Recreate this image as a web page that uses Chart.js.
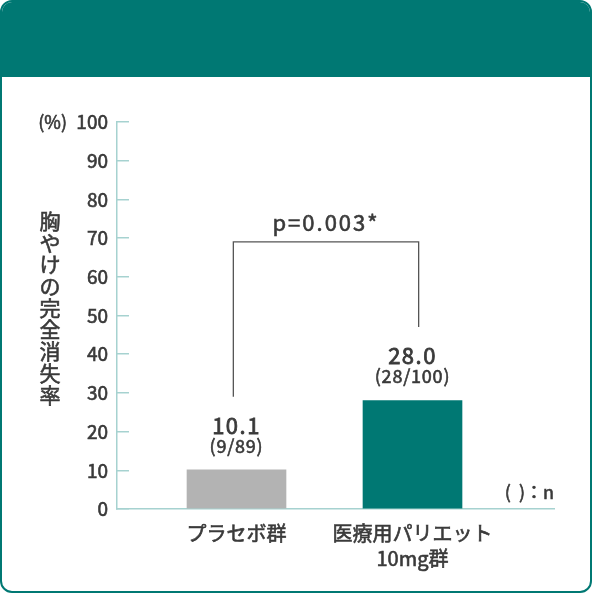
<!DOCTYPE html>
<html>
<head>
<meta charset="utf-8">
<script src="https://cdn.jsdelivr.net/npm/chart.js@4.4.1/dist/chart.umd.min.js"></script>
<style>
    body { margin: 0; background: #fff; }
    #card { position: absolute; left: 0; top: 0; width: 592px; height: 593px; box-sizing: border-box;
        border: 2px solid #007873; border-radius: 12px; overflow: hidden; }
    #head { height: 75px; background: #007873; }
    #chart { position: absolute; left: 0; top: 0; }
</style>
</head>
<body>
<div id="card"><div id="head"></div></div>
<canvas id="chart" width="593" height="594"></canvas>
<script>
    // data
    var categories = ['プラセボ群', ['医療用パリエット', '10mg群']];
    var rates = [10.1, 28.0];
    var rateLabels = ['10.1', '28.0'];
    var countLabels = ['(9/89)', '(28/100)'];
    var barColors = ['#b3b3b3', '#007873'];
    var yTicks = [0, 10, 20, 30, 40, 50, 60, 70, 80, 90, 100];
    var yTitle = '胸やけの完全消失率';
    var pLabel = 'p=0.003*';
    // bracket: level and the two foot ends, in % units
    var bracketLevel = 69;
    var bracketFeet = [29, 47];

    var FONT = "'Noto Sans CJK JP', 'Noto Sans', sans-serif";
    var TEXT = '#3a3a3a';
    var AXIS = '#a6d2d0';

    // fill + thin stroke, the reference type is a bit heavier than Regular
    function label(ctx, s, x, y, w) {
        ctx.lineWidth = w || 0.6;
        ctx.strokeStyle = TEXT;
        ctx.fillText(s, x, y);
        ctx.strokeText(s, x, y);
    }

    var extras = {
        id: 'extras',
        afterDatasetsDraw: function (chart) {
            var ctx = chart.ctx, x = chart.scales.x, y = chart.scales.y;
            ctx.save();
            ctx.fillStyle = TEXT;
            ctx.textAlign = 'center';
            ctx.textBaseline = 'middle';

            // value + n labels over the bars
            rates.forEach(function (v, i) {
                var px = x.getPixelForValue(i), py = y.getPixelForValue(v);
                ctx.letterSpacing = '1.5px';
                ctx.font = '22px ' + FONT;
                label(ctx, rateLabels[i], px, py - 44.5, 0.8);
                ctx.letterSpacing = '0.8px';
                ctx.font = '18px ' + FONT;
                label(ctx, countLabels[i], px, py - 24);
            });

            // significance bracket
            var xl = x.getPixelForValue(-0.018), xr = x.getPixelForValue(1.035);
            var yb = y.getPixelForValue(bracketLevel);
            ctx.strokeStyle = '#555';
            ctx.lineWidth = 1.3;
            ctx.beginPath();
            ctx.moveTo(xl, y.getPixelForValue(bracketFeet[0]));
            ctx.lineTo(xl, yb);
            ctx.lineTo(xr, yb);
            ctx.lineTo(xr, y.getPixelForValue(bracketFeet[1]));
            ctx.stroke();
            ctx.letterSpacing = '2px';
            ctx.font = '22px ' + FONT;
            label(ctx, pLabel, (xl + xr) / 2, yb - 19);
            ctx.letterSpacing = '0px';

            // (%) unit and vertical title
            ctx.font = '18px ' + FONT;
            ctx.textAlign = 'right';
            label(ctx, '(%)', 67, y.getPixelForValue(100));
            ctx.textAlign = 'center';
            ctx.font = '21px ' + FONT;
            var chars = Array.from(yTitle);
            var step = 21.7;
            var cy = y.getPixelForValue(52) - step * (chars.length - 1) / 2;
            chars.forEach(function (ch, i) {
                label(ctx, ch, 50, cy + i * step);
            });

            // n legend
            ctx.font = '18px ' + FONT;
            ctx.textAlign = 'right';
            label(ctx, '(  )：n', chart.chartArea.right, y.getPixelForValue(4.3));
            ctx.restore();
        }
    };

    new Chart(document.getElementById('chart'), {
        type: 'bar',
        data: {
            datasets: [{
                data: rates.map(function (v, i) { return {x: i, y: v}; }),
                backgroundColor: barColors,
                borderWidth: 0,
                barThickness: 99
            }]
        },
        options: {
            responsive: false,
            animation: false,
            layout: {padding: {left: 0, top: 122, right: 39, bottom: 0}},
            plugins: {legend: {display: false}, tooltip: {enabled: false}},
            scales: {
                x: {
                    type: 'linear',
                    offset: false,
                    min: -0.679,
                    max: 1.804,
                    afterBuildTicks: function (s) {
                        s.ticks = categories.map(function (c, i) { return {value: i}; });
                    },
                    afterFit: function (s) { s.height = 85; },
                    grid: {drawOnChartArea: false, drawTicks: false, color: AXIS},
                    border: {color: AXIS, width: 1.5},
                    ticks: {
                        padding: 12,
                        color: TEXT,
                        textStrokeColor: TEXT,
                        textStrokeWidth: 0.6,
                        font: {family: FONT, size: 20, lineHeight: 1.25},
                        maxRotation: 0,
                        autoSkip: false,
                        callback: function (v, i) { return categories[i]; }
                    }
                },
                y: {
                    min: 0,
                    max: 100,
                    afterBuildTicks: function (s) {
                        s.ticks = yTicks.map(function (t) { return {value: t}; });
                    },
                    afterFit: function (s) { s.width = 117; },
                    grid: {drawOnChartArea: false, drawTicks: true, tickLength: -12, color: AXIS, lineWidth: 1.5},
                    border: {color: AXIS, width: 1.5},
                    ticks: {
                        padding: 21,
                        color: TEXT,
                        textStrokeColor: TEXT,
                        textStrokeWidth: 0.6,
                        font: {family: FONT, size: 19}
                    }
                }
            }
        },
        plugins: [extras]
    });
</script>
</body>
</html>
